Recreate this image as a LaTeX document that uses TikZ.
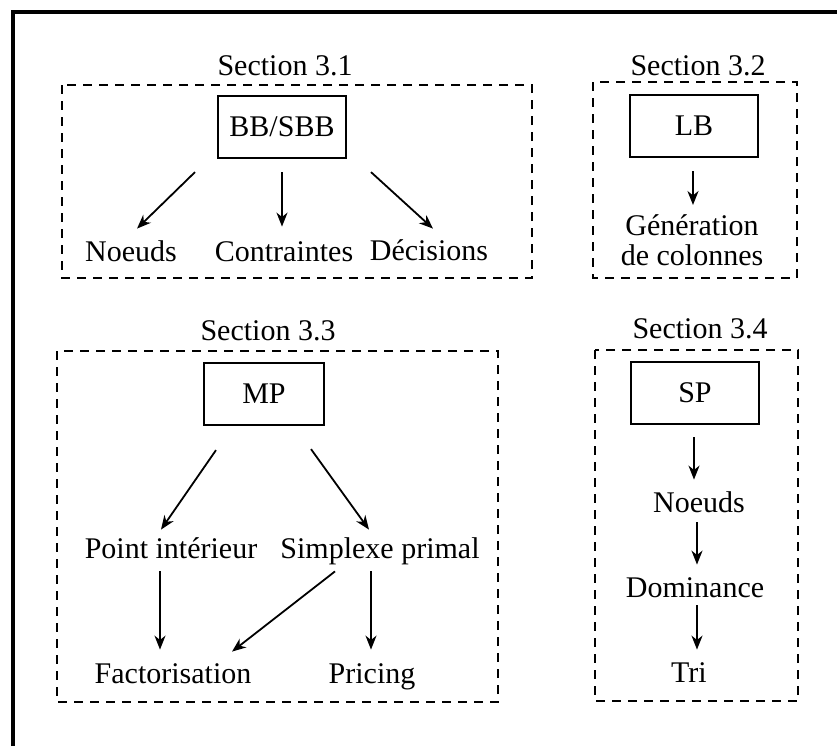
\documentclass[tikz,border=0pt]{standalone}
\usepackage{fontspec}
\setmainfont{Liberation Serif}
\usetikzlibrary{arrows.meta,calc}

\tikzset{
  estilo schema/.style={
      x=0.5pt, y=-0.5pt,
      every node/.style={font={\fontsize{15}{15}\selectfont}},
      boite/.style={draw, line width=1.1pt, minimum width=64pt, minimum height=31pt, inner sep=0pt},
      etiq/.style={anchor=base, inner sep=2pt, text height=10pt, text depth=3pt},
      titre/.style={anchor=base, inner sep=0pt},
      cadre/.style={line width=1.1pt, dash pattern=on 4.5pt off 3.5pt},
      fleche/.style={-{Stealth[length=7pt,width=5.5pt,inset=2.2pt]}, line width=0.9pt},
    },
}

\begin{document}
\begin{tikzpicture}[estilo schema]
            \useasboundingbox (0,0) rectangle (837,746);
            \draw[line width=1.6pt] (13,746) |- (837,12);

            % Section 3.1
            \node[titre] (s31) at (285,75) {Section 3.1};
            \draw[cadre] (62,85) rectangle (532,278);
            \node[boite] (bb) at (282,127) {BB/SBB};
            \node[etiq] (noeuds) at (131,261) {Noeuds};
            \node[etiq] (contr) at (284,261) {Contraintes};
            \node[etiq] (decis) at (429,260) {Décisions};

            % Section 3.2
            \node[titre] (s32) at (698,75) {Section 3.2};
            \draw[cadre] (593,82) rectangle (797,278);
            \node[boite] (lb) at (694,126) {LB};
            \node[anchor=north, align=center, inner sep=2pt] (gen) at (692,210) {Génération\\de colonnes};

            % Section 3.3
            \node[titre] (s33) at (268,340) {Section 3.3};
            \draw[cadre] (57,351) rectangle (498,702);
            \node[boite, minimum width=60pt] (mp) at (264,394) {MP};
            \node[etiq] (pint) at (171,558) {Point intérieur};
            \node[etiq] (simp) at (380,558) {Simplexe primal};
            \node[etiq] (fact) at (173,683) {Factorisation};
            \node[etiq] (pric) at (372,683) {Pricing};

            % Section 3.4
            \node[titre] (s34) at (700,338) {Section 3.4};
            \draw[cadre] (595,350) rectangle (798,701);
            \node[boite] (sp) at (695,393) {SP};
            \node[etiq] (noeudssp) at (699,512) {Noeuds};
            \node[etiq] (dom) at (695,597) {Dominance};
            \node[etiq] (tri) at (689,682) {Tri};

            \draw[fleche] ($(bb.south)+(-87,13)$) -- ($(noeuds.north)+(6,-8)$);
            \draw[fleche] ($(bb.south)+(0,13)$) -- ($(contr.north)+(-2,-10)$);
            \draw[fleche] ($(bb.south)+(89,13)$) -- ($(decis.north)+(4,-7)$);
            \draw[fleche] ($(lb.south)+(-1,13)$) -- ($(gen.north)+(1,-5)$);
            \draw[fleche] ($(mp.south)+(-48,24)$) -- ($(pint.north)+(-10,-4)$);
            \draw[fleche] ($(mp.south)+(47,23)$) -- ($(simp.north)+(-11,-4)$);
            \draw[fleche] ($(pint.south)+(-11,3)$) -- ($(fact.north)+(-13,-9)$);
            \draw[fleche] ($(simp.south)+(-45,3)$) -- ($(fact.north)+(59,-7)$);
            \draw[fleche] ($(simp.south)+(-9,3)$) -- ($(pric.north)+(-1,-9)$);
            \draw[fleche] ($(sp.south)+(-1,12)$) -- ($(noeudssp.north)+(-5,-8)$);
            \draw[fleche] ($(noeudssp.south)+(-2,0)$) -- ($(dom.north)+(2,-8)$);
            \draw[fleche] ($(dom.south)+(2,-2)$) -- ($(tri.north)+(8,-8)$);
          \end{tikzpicture}
\end{document}
